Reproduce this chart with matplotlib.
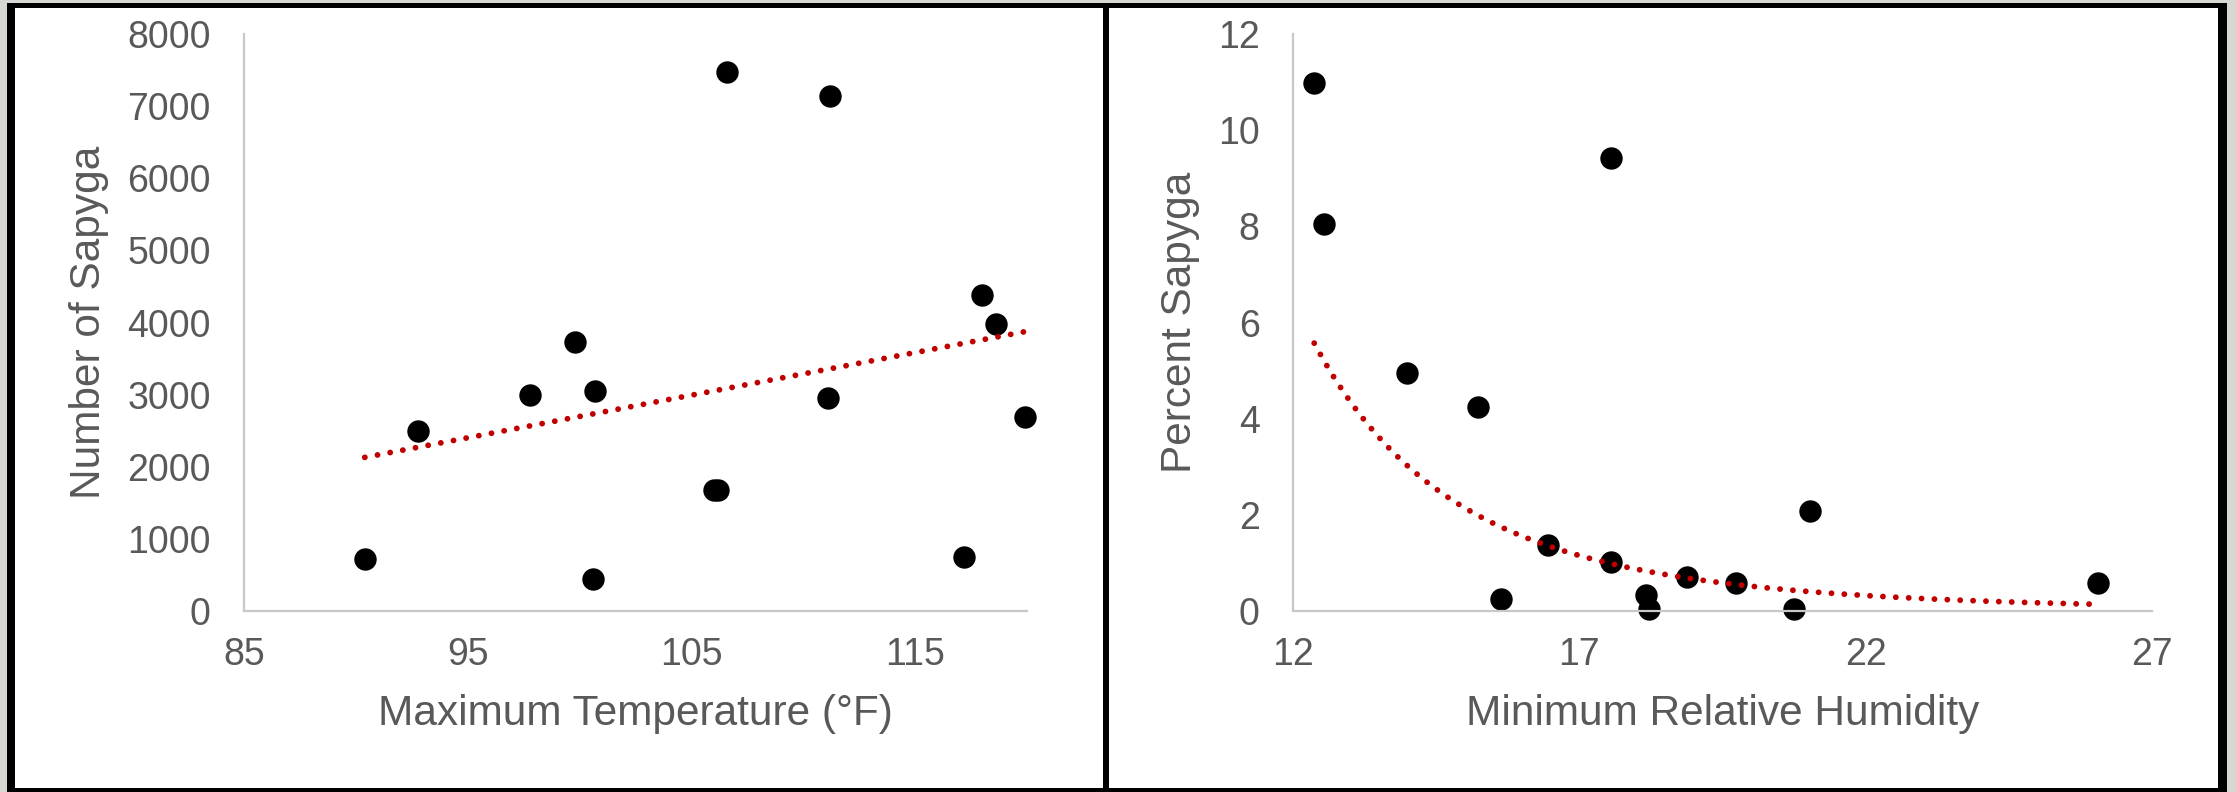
import matplotlib
matplotlib.use("Agg")
import matplotlib.pyplot as plt
from matplotlib.patches import Rectangle
import numpy as np

# left panel: max temperature vs number of Sapyga
max_temp = [90.4, 92.8, 97.8, 99.8, 100.7, 100.6, 106.0, 106.2, 106.6,
            111.2, 111.1, 117.2, 118.0, 118.6, 119.9]
num_sapyga = [723, 2491, 2989, 3733, 3053, 449, 1684, 1684, 7474,
              7144, 2947, 751, 4386, 3979, 2695]

# right panel: min relative humidity vs percent Sapyga
min_rh = [12.37, 12.55, 13.99, 15.23, 15.63, 16.46, 17.55, 17.55, 18.17,
          18.21, 18.88, 19.73, 20.75, 21.03, 26.05]
pct_sapyga = [10.99, 8.05, 4.94, 4.25, 0.24, 1.38, 9.42, 1.01, 0.34,
              0.05, 0.71, 0.58, 0.05, 2.08, 0.58]

left_xticks = [85, 95, 105, 115]
left_yticks = [0, 1000, 2000, 3000, 4000, 5000, 6000, 7000, 8000]
right_xticks = [12, 17, 22, 27]
right_yticks = [0, 2, 4, 6, 8, 10, 12]

W, H = 2236, 792
plt.rcParams['font.family'] = ['Liberation Sans', 'DejaVu Sans']
text_col = '#595959'
axis_col = '#c8c8c8'
trend_col = '#c00000'

fig = plt.figure(figsize=(W / 100, H / 100), dpi=100, facecolor='#d8d8d2')

# panel frames (black border, white inside), kept behind the axes
fig.add_artist(Rectangle((7 / W, 0), (2227 - 7) / W, (H - 3) / H, zorder=-10,
                         transform=fig.transFigure, facecolor='black', edgecolor='none'))
fig.add_artist(Rectangle((15 / W, 4 / H), (1103 - 15) / W, 780 / H, zorder=-9,
                         transform=fig.transFigure, facecolor='white', edgecolor='none'))
fig.add_artist(Rectangle((1109 / W, 4 / H), (2218 - 1109) / W, 780 / H, zorder=-9,
                         transform=fig.transFigure, facecolor='white', edgecolor='none'))


def style_axes(ax, xticks, yticks, xlabel, ylabel):
    ax.set_facecolor('none')
    ax.set_xticks(xticks)
    ax.set_yticks(yticks)
    ax.set_ylim(yticks[0], yticks[-1])
    for s in ['top', 'right']:
        ax.spines[s].set_visible(False)
    for s in ['left', 'bottom']:
        ax.spines[s].set_color(axis_col)
        ax.spines[s].set_linewidth(1.6)
    ax.tick_params(axis='both', length=0, labelsize=27, labelcolor=text_col)
    ax.tick_params(axis='x', pad=19)
    ax.tick_params(axis='y', pad=24)
    ax.set_xlabel(xlabel, fontsize=30.5, color=text_col, labelpad=15)
    ax.set_ylabel(ylabel, fontsize=30.5, color=text_col, labelpad=13)


def trend_style():
    return dict(color=trend_col, lw=4.2, linestyle=(0, (0.01, 2.2)),
                dash_capstyle='round', zorder=3)


# left chart
ax1 = fig.add_axes([244 / W, 1 - 611 / H, (1027 - 244) / W, (611 - 34) / H])
ax1.scatter(max_temp, num_sapyga, s=260, color='black', zorder=2, linewidths=0,
            clip_on=False)
coef = np.polyfit(max_temp, num_sapyga, 1)
tx = np.linspace(min(max_temp), max(max_temp), 100)
ax1.plot(tx, np.polyval(coef, tx), **trend_style())
style_axes(ax1, left_xticks, left_yticks, 'Maximum Temperature (°F)', 'Number of Sapyga')
ax1.set_xlim(85, 120)

# right chart, power trendline like excel
ax2 = fig.add_axes([1293 / W, 1 - 611 / H, (2152 - 1293) / W, (611 - 34) / H])
ax2.scatter(min_rh, pct_sapyga, s=260, color='black', zorder=2, linewidths=0,
            clip_on=False)
pc = np.polyfit(np.log(min_rh), np.log(pct_sapyga), 1)
rx = np.linspace(min(min_rh), max(min_rh), 200)
ax2.plot(rx, np.exp(pc[1]) * rx ** pc[0], **trend_style())
style_axes(ax2, right_xticks, right_yticks, 'Minimum Relative Humidity', 'Percent Sapyga')
ax2.set_xlim(12, 27)

fig.savefig('out.png', dpi=100, facecolor=fig.get_facecolor())
